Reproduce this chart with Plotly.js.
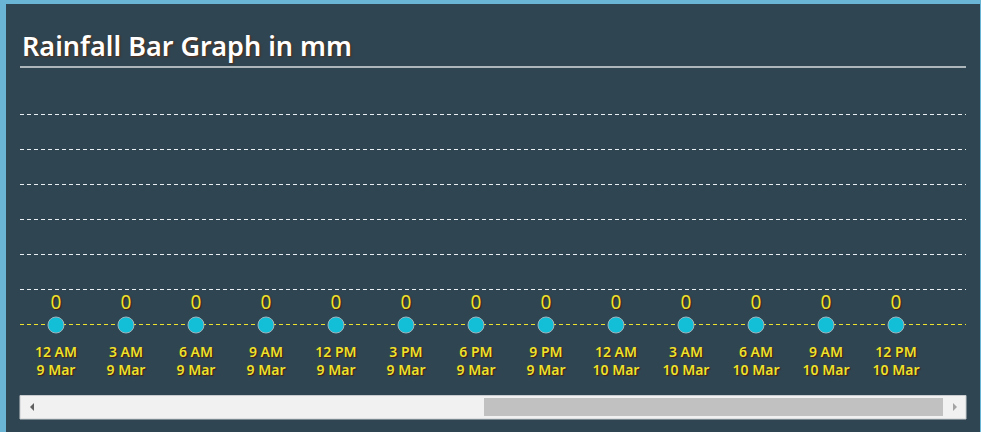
<!DOCTYPE html>
<html>
<head>
<meta charset="utf-8">
<script src="https://cdn.plot.ly/plotly-3.0.1.min.js"></script>
<style>
  html, body { margin:0; padding:0; background:#6ab4d6; width:981px; height:432px; overflow:hidden; }
  #chart { position:absolute; left:6px; top:4px; width:974px; height:428px; }
</style>
</head>
<body>
<div id="chart"></div>
<script>
const timeLabels = ["12 AM", "3 AM", "6 AM", "9 AM", "12 PM", "3 PM", "6 PM", "9 PM", "12 AM", "3 AM", "6 AM", "9 AM", "12 PM"];
const dateLabels = ["9 Mar", "9 Mar", "9 Mar", "9 Mar", "9 Mar", "9 Mar", "9 Mar", "9 Mar", "10 Mar", "10 Mar", "10 Mar", "10 Mar", "10 Mar"];
const rainfallMm = [0, 0, 0, 0, 0, 0, 0, 0, 0, 0, 0, 0, 0];
const yTicks = [0, 1, 2, 3, 4, 5, 6, 7];

const categories = timeLabels.map((t, i) => t + "<br>" + dateLabels[i]);
const yellow = "#eee22c";
const shadow = "1px 1px 1px #4a1a10";

// pixel -> paper helpers (plot area: x 20..966, y 79..325 in window pixels)
const px = p => (p - 20) / 946;
const py = q => (325 - q) / 246;

const trace = {
  type: "scatter",
  mode: "markers+text",
  x: categories,
  y: rainfallMm,
  text: rainfallMm.map(String),
  textposition: "top center",
  textfont: { family: "Noto Sans", size: 19, color: yellow, shadow: shadow },
  marker: { size: 16, color: "#12bfd6", line: { color: "#9fb4bd", width: 1 } },
  cliponaxis: false,
  hoverinfo: "skip"
};

const layout = {
  width: 974, height: 428,
  margin: { l: 14, r: 14, t: 75, b: 107, pad: 0 },
  paper_bgcolor: "#2f4552",
  plot_bgcolor: "#2f4552",
  showlegend: false,
  xaxis: {
    type: "category",
    range: [-0.514, 13],
    showgrid: false, zeroline: false, showline: false,
    ticks: "",
    tickfont: { family: "Noto Sans", size: 14, color: yellow, weight: 600, shadow: shadow },
    ticklabelstandoff: 17,
    fixedrange: true
  },
  yaxis: {
    range: [0, 7],
    tickvals: yTicks,
    showticklabels: false,
    showgrid: true, gridcolor: "#e8eef2", griddash: "4px,3px", gridwidth: 1,
    zeroline: false, showline: false, ticks: "",
    fixedrange: true
  },
  shapes: [
    { type: "line", xref: "paper", yref: "y", x0: 0, x1: 1, y0: 0, y1: 0,
      line: { color: yellow, width: 2, dash: "4px,3px" }, layer: "between" },
    { type: "line", xref: "paper", yref: "paper", x0: 0, x1: 1, y0: py(67), y1: py(67),
      line: { color: "#d8dcde", width: 1.5 } },
    { type: "rect", xref: "paper", yref: "paper", x0: 0, x1: 1, y0: py(395.5), y1: py(419),
      fillcolor: "#f1f1f1", line: { color: "#c8ccce", width: 1 } },
    { type: "rect", xref: "paper", yref: "paper", x0: px(484), x1: px(943), y0: py(398), y1: py(416),
      fillcolor: "#c1c1c1", line: { width: 0 } },
    { type: "path", xref: "paper", yref: "paper",
      path: `M ${px(30)} ${py(407)} L ${px(34)} ${py(403)} L ${px(34)} ${py(411)} Z`,
      fillcolor: "#606060", line: { width: 0 } },
    { type: "path", xref: "paper", yref: "paper",
      path: `M ${px(957)} ${py(407)} L ${px(953)} ${py(403)} L ${px(953)} ${py(411)} Z`,
      fillcolor: "#a3a3a3", line: { width: 0 } }
  ],
  annotations: [
    { xref: "paper", yref: "paper", x: px(20), y: py(45), xanchor: "left", yanchor: "middle",
      text: "Rainfall Bar Graph in mm", showarrow: false,
      font: { family: "Noto Sans", size: 27, color: "#ffffff", weight: 600, shadow: "1px 1px 2px #5a2a10" } }
  ]
};

Plotly.newPlot("chart", [trace], layout, { displayModeBar: false, staticPlot: true });
</script>
</body>
</html>
